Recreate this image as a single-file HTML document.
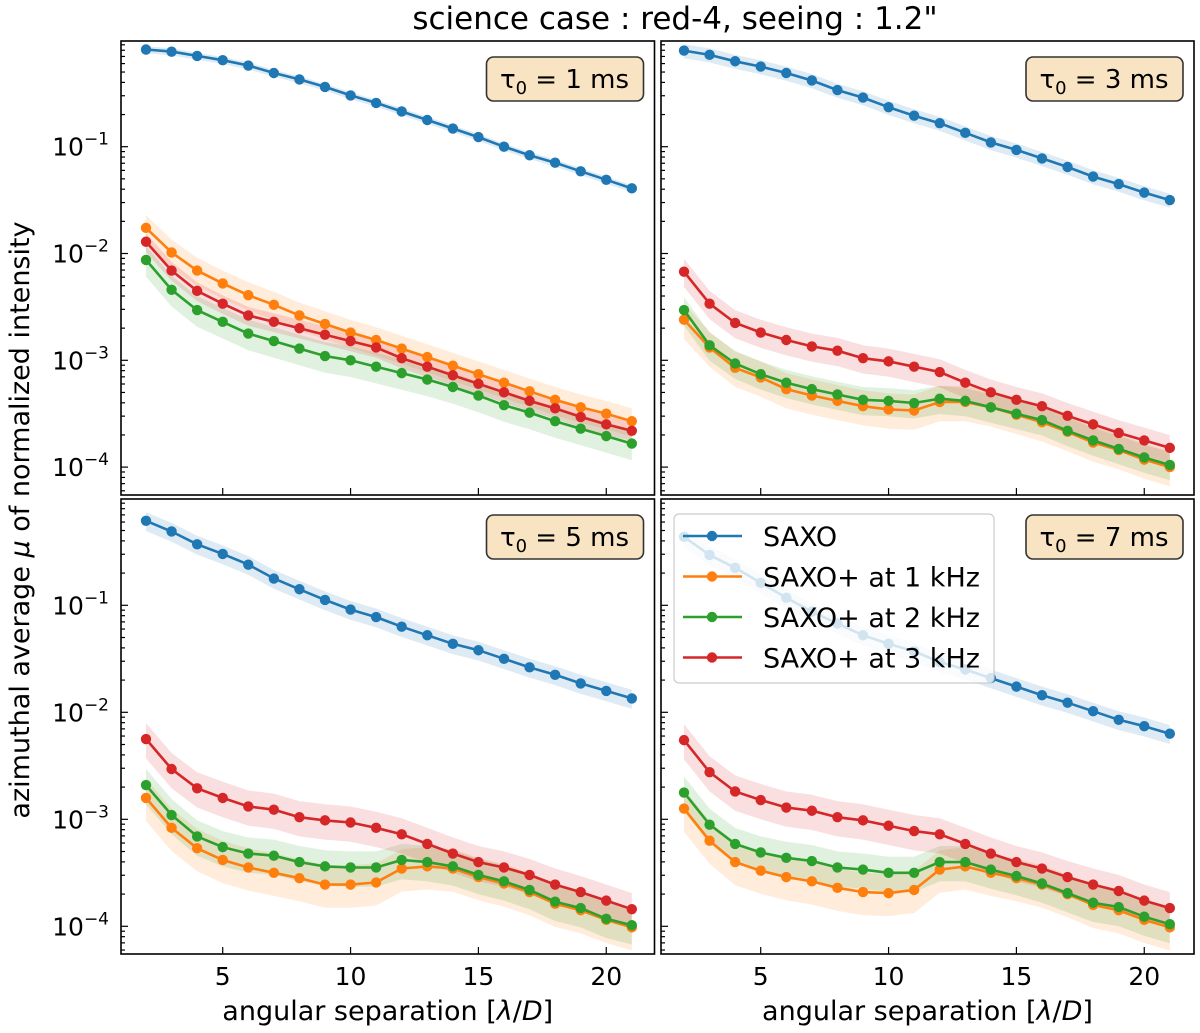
<!DOCTYPE html>
<html><head><meta charset="utf-8">
<style>
html,body{margin:0;padding:0;background:#fff;}
svg{display:block;font-family:"DejaVu Sans","Liberation Sans",sans-serif;}
</style></head>
<body>
<svg id="fig" width="1200" height="1033" viewBox="0 0 1200 1033" xmlns="http://www.w3.org/2000/svg">
<text x="675" y="29" font-size="31" text-anchor="middle">science case : red-4, seeing : 1.2"</text>
<text transform="translate(29,520) rotate(-90)" font-size="27" text-anchor="middle">azimuthal average <tspan font-style="italic">μ</tspan> of normalized intensity</text>
</svg>
<script>
// x values (angular separation, λ/D)
const seps = [2,3,4,5,6,7,8,9,10,11,12,13,14,15,16,17,18,19,20,21];
const seriesNames = ["SAXO","SAXO+ at 1 kHz","SAXO+ at 2 kHz","SAXO+ at 3 kHz"];
const tauLabels = ["1","3","5","7"];
const xTicks = [5,10,15,20];
const yTicksExp = [-1,-2,-3,-4];
// log10 of intensity per panel
const tl_saxo = [-0.09,-0.11,-0.15,-0.19,-0.24,-0.31,-0.37,-0.44,-0.52,-0.59,-0.67,-0.75,-0.83,-0.91,-1.00,-1.08,-1.15,-1.23,-1.31,-1.39];
const tl_1k = [-1.76,-1.99,-2.16,-2.28,-2.39,-2.48,-2.58,-2.66,-2.74,-2.81,-2.89,-2.97,-3.05,-3.13,-3.21,-3.29,-3.37,-3.44,-3.50,-3.57];
const tl_2k = [-2.06,-2.34,-2.53,-2.64,-2.75,-2.82,-2.89,-2.96,-3.00,-3.06,-3.12,-3.18,-3.25,-3.33,-3.42,-3.49,-3.57,-3.64,-3.71,-3.78];
const tl_3k = [-1.89,-2.16,-2.35,-2.47,-2.58,-2.64,-2.70,-2.76,-2.82,-2.88,-2.98,-3.06,-3.14,-3.22,-3.30,-3.38,-3.45,-3.53,-3.60,-3.66];
const tr_saxo = [-0.10,-0.14,-0.20,-0.25,-0.31,-0.38,-0.47,-0.54,-0.63,-0.71,-0.78,-0.87,-0.96,-1.03,-1.11,-1.19,-1.28,-1.35,-1.43,-1.50];
const tr_1k = [-2.62,-2.88,-3.07,-3.16,-3.27,-3.33,-3.38,-3.43,-3.46,-3.47,-3.39,-3.39,-3.44,-3.51,-3.58,-3.67,-3.77,-3.84,-3.93,-4.00];
const tr_2k = [-2.53,-2.86,-3.03,-3.13,-3.21,-3.27,-3.32,-3.37,-3.38,-3.40,-3.36,-3.38,-3.44,-3.50,-3.56,-3.66,-3.75,-3.83,-3.91,-3.98];
const tr_3k = [-2.17,-2.47,-2.65,-2.74,-2.81,-2.87,-2.91,-2.98,-3.01,-3.06,-3.11,-3.21,-3.30,-3.37,-3.43,-3.52,-3.60,-3.68,-3.75,-3.82];
const bl_saxo = [-0.21,-0.31,-0.43,-0.52,-0.62,-0.75,-0.85,-0.95,-1.04,-1.11,-1.20,-1.28,-1.36,-1.42,-1.50,-1.58,-1.65,-1.73,-1.80,-1.87];
const bl_1k = [-2.80,-3.08,-3.27,-3.38,-3.45,-3.50,-3.55,-3.61,-3.61,-3.59,-3.46,-3.44,-3.46,-3.54,-3.60,-3.68,-3.79,-3.85,-3.94,-4.01];
const bl_2k = [-2.68,-2.96,-3.16,-3.26,-3.32,-3.34,-3.40,-3.44,-3.45,-3.45,-3.38,-3.40,-3.44,-3.52,-3.58,-3.66,-3.77,-3.83,-3.93,-3.99];
const bl_3k = [-2.25,-2.53,-2.71,-2.80,-2.88,-2.91,-2.98,-3.01,-3.03,-3.08,-3.14,-3.23,-3.32,-3.40,-3.45,-3.52,-3.61,-3.68,-3.76,-3.84];
const br_saxo = [-0.36,-0.53,-0.65,-0.79,-0.93,-1.06,-1.17,-1.28,-1.36,-1.43,-1.53,-1.60,-1.68,-1.76,-1.84,-1.91,-1.99,-2.07,-2.13,-2.20];
const br_1k = [-2.90,-3.20,-3.40,-3.48,-3.54,-3.58,-3.64,-3.68,-3.69,-3.66,-3.47,-3.44,-3.50,-3.55,-3.61,-3.70,-3.80,-3.85,-3.94,-4.01];
const br_2k = [-2.75,-3.05,-3.23,-3.31,-3.36,-3.39,-3.45,-3.47,-3.50,-3.50,-3.40,-3.40,-3.47,-3.53,-3.60,-3.69,-3.78,-3.82,-3.91,-3.98];
const br_3k = [-2.26,-2.56,-2.74,-2.82,-2.89,-2.92,-2.98,-3.01,-3.06,-3.11,-3.14,-3.23,-3.32,-3.40,-3.46,-3.54,-3.61,-3.67,-3.76,-3.83];
// band half-widths (decades) per series: saxo, 1k, 2k, 3k
const tl_err = [0.03,0.12,0.13,0.08];
const tr_err = [0.06,0.15,0.12,0.12];
const bl_err = [0.08,0.18,0.15,0.15];
const br_err = [0.08,0.18,0.15,0.15];

const colors = ["#1f77b4","#ff7f0e","#2ca02c","#d62728"];
const NS = "http://www.w3.org/2000/svg";
const svg = document.getElementById("fig");
function mk(tag, attrs, parent){const e=document.createElementNS(NS,tag);for(const k in attrs)e.setAttribute(k,attrs[k]);(parent||svg).appendChild(e);return e;}

const panels = [
 {key:"tl", data:[tl_saxo,tl_1k,tl_2k,tl_3k], err:tl_err, L:121,R:654.5,T:41,B:495, x2:146, y1:146.7, dec:106.8, ylab:true, xlab:false, tau:tauLabels[0]},
 {key:"tr", data:[tr_saxo,tr_1k,tr_2k,tr_3k], err:tr_err, L:661,R:1194,T:41,B:495, x2:684, y1:146.7, dec:106.8, ylab:false, xlab:false, tau:tauLabels[1]},
 {key:"bl", data:[bl_saxo,bl_1k,bl_2k,bl_3k], err:bl_err, L:121,R:654.5,T:499,B:954, x2:146, y1:605.3, dec:107, ylab:true, xlab:true, tau:tauLabels[2]},
 {key:"br", data:[br_saxo,br_1k,br_2k,br_3k], err:br_err, L:661,R:1194,T:499,B:954, x2:684, y1:605.3, dec:107, ylab:false, xlab:true, tau:tauLabels[3]}
];
const xUnit = 25.57;

panels.forEach((p,pi)=>{
  const g = mk("g",{});
  
  
  const X = v => p.x2 + (v-2)*xUnit;
  const Y = lg => p.y1 - (lg+1)*p.dec;
  const clipId = "clip"+pi;
  const cp = mk("clipPath",{id:clipId},g);
  mk("rect",{x:p.L,y:p.T,width:p.R-p.L,height:p.B-p.T},cp);
  const plot = mk("g",{"clip-path":"url(#"+clipId+")"},g);
  p.data.forEach((arr,si)=>{
    const e = p.err[si];
    let d = "M"+seps.map((s,i)=>X(s).toFixed(1)+","+Y(arr[i]+e).toFixed(1)).join("L");
    for(let i=seps.length-1;i>=0;i--) d += "L"+X(seps[i]).toFixed(1)+","+Y(arr[i]-e*1.2).toFixed(1);
    const band = mk("path",{d:d+"Z",fill:colors[si],"fill-opacity":0.15,stroke:"none"},plot);
    
    
  });
  p.data.forEach((arr,si)=>{
    const pts = seps.map((s,i)=>X(s).toFixed(1)+","+Y(arr[i]).toFixed(1)).join(" ");
    const line = mk("polyline",{points:pts,fill:"none",stroke:colors[si],"stroke-width":2.6},plot);
    
    
    seps.forEach((s,i)=>{
      const c = mk("circle",{cx:X(s),cy:Y(arr[i]),r:5.2,fill:colors[si]},plot);
      
      
    });
  });
  const fr = mk("rect",{x:p.L,y:p.T,width:p.R-p.L,height:p.B-p.T,fill:"none",stroke:"#000","stroke-width":1.6},g);
  
  
  for(let dcd=0; dcd>=-5; dcd--){
    for(let m=1;m<=9;m++){
      const lg = dcd-1 + Math.log10(m);
      const y = Y(lg);
      if(y<p.T+0.5||y>p.B-0.5) continue;
      mk("line",{x1:p.L,x2:p.L+(m===1?7:4),y1:y,y2:y,stroke:"#000","stroke-width":1.2},g);
    }
  }
  if(p.ylab){
    yTicksExp.forEach(ex=>{
      const t = mk("text",{x:p.L-12,y:Y(ex)+9,"font-size":25,"text-anchor":"end"},g);
      
      
      t.innerHTML = '10<tspan dy="-11" font-size="17">'+(ex<0?'−':'')+Math.abs(ex)+'</tspan>';
    });
  }
  xTicks.forEach(v=>{
    mk("line",{x1:X(v),x2:X(v),y1:p.B,y2:p.B-7,stroke:"#000","stroke-width":1.2},g);
    if(p.xlab){
      const t = mk("text",{x:X(v),y:p.B+31,"font-size":25,"text-anchor":"middle"},g);
      
      
      t.textContent = v;
    }
  });
  if(p.xlab){
    const t = mk("text",{x:(p.L+p.R)/2,y:p.B+66,"font-size":27,"text-anchor":"middle"},g);
    
    
    t.innerHTML = 'angular separation [<tspan font-style="italic">λ</tspan>/<tspan font-style="italic">D</tspan>]';
  }
  const bx = p.R-168, by = p.T+16;
  const box = mk("rect",{x:bx,y:by,width:157,height:44,rx:7,fill:"#f8e4c3",stroke:"#333","stroke-width":1.6},g);
  
  
  const tt = mk("text",{x:bx+78,y:by+31,"font-size":26,"text-anchor":"middle"},g);
  
  
  tt.innerHTML = 'τ<tspan dy="6" font-size="18">0</tspan><tspan dy="-6"> = '+p.tau+' ms</tspan>';
});

const lg = mk("g",{});


mk("rect",{x:674,y:514,width:320,height:169,rx:5,fill:"#fff","fill-opacity":0.8,stroke:"#ccc","stroke-width":1.2},lg);
seriesNames.forEach((n,i)=>{
  const y = 536 + i*40.5;
  const e = mk("g",{},lg);
  
  
  mk("line",{x1:683,x2:742,y1:y,y2:y,stroke:colors[i],"stroke-width":2.6},e);
  mk("circle",{cx:712,cy:y,r:5.2,fill:colors[i]},e);
  const t = mk("text",{x:763,y:y+10,"font-size":27},e);
  t.textContent = n;
});
</script>
</body></html>
